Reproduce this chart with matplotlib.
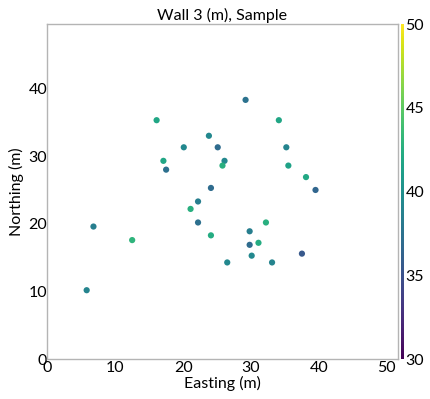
import matplotlib
matplotlib.use("Agg")
import matplotlib.pyplot as plt
import numpy as np

plt.rcParams['font.family'] = ['Lato', 'DejaVu Sans']

# Sample locations (m) and sampled values
easting = [16.1, 23.8, 25.1, 20.1, 17.1, 17.5, 24.1, 22.2, 21.1, 22.2,
           24.1, 6.8, 12.5, 5.8, 29.2, 34.1, 35.2, 26.1, 25.8, 35.5,
           38.1, 39.5, 32.2, 29.8, 29.8, 31.1, 30.1, 37.5, 26.5, 33.1]
northing = [35.3, 33.0, 31.3, 31.3, 29.3, 28.0, 25.3, 23.3, 22.2, 20.2,
            18.3, 19.6, 17.6, 10.2, 38.3, 35.3, 31.3, 29.3, 28.6, 28.6,
            26.9, 25.0, 20.2, 18.9, 16.9, 17.2, 15.3, 15.6, 14.3, 14.3]
value = [41.8, 39.3, 37.0, 39.3, 41.8, 37.3, 37.0, 38.5, 42.6, 37.3,
         42.3, 38.5, 43.0, 39.0, 37.5, 41.8, 39.0, 39.3, 42.6, 41.5,
         42.0, 36.5, 42.6, 38.5, 37.0, 42.3, 39.3, 35.5, 39.3, 39.0]

xticks = [0, 10, 20, 30, 40, 50]
yticks = [0, 10, 20, 30, 40]
cticks = [30, 35, 40, 45, 50]

fig = plt.figure(figsize=(4.31, 3.99), dpi=100)
ax = fig.add_axes([0.1097, 0.0995, 0.8130, 0.8403])
sc = ax.scatter(easting, northing, c=value, cmap='viridis', vmin=30, vmax=50,
                s=20, edgecolors='none')
ax.set_xlim(0, 51.6)
ax.set_ylim(0, 49.5)
ax.set_xticks(xticks)
ax.set_yticks(yticks)
ax.tick_params(length=0, labelsize=11.5)
ax.tick_params(axis='x', pad=1)
ax.tick_params(axis='y', pad=0)
for sp in ax.spines.values():
    sp.set_color('#b4b4b4')
    sp.set_linewidth(1.0)
ax.set_xlabel('Easting (m)', fontsize=11.5, labelpad=1)
ax.set_ylabel('Northing (m)', fontsize=11.5, labelpad=3)
ax.set_title('Wall 3 (m), Sample', fontsize=11.5, pad=3)

cax = fig.add_axes([0.9297, 0.0995, 0.0080, 0.8403])
cb = fig.colorbar(sc, cax=cax, ticks=cticks)
cb.outline.set_visible(False)
cax.tick_params(length=0, pad=1, labelsize=11.5)

fig.savefig('out.png', dpi=100)
